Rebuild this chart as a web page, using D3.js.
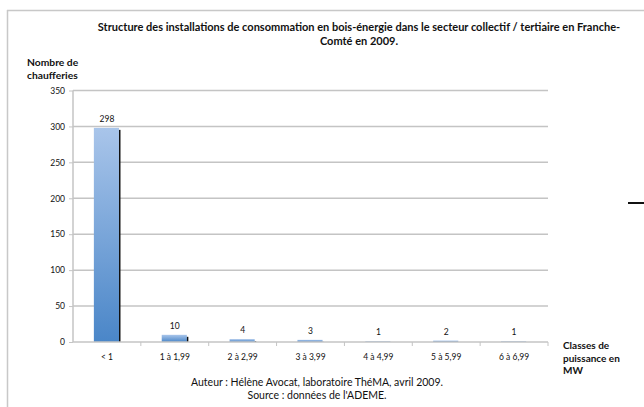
<!DOCTYPE html>
<html><head><meta charset="utf-8">
<script src="https://cdn.jsdelivr.net/npm/d3@7"></script>
<style>body{margin:0;background:#fff}svg{display:block}text{font-family:Lato,"Open Sans",sans-serif;fill:#111}</style>
</head><body><svg id="c" width="644" height="407"></svg>
<script>
const categories = ["< 1","1 à 1,99","2 à 2,99","3 à 3,99","4 à 4,99","5 à 5,99","6 à 6,99"];
const values = [298,10,4,3,1,2,1];
const yTicks = [0,50,100,150,200,250,300,350];
const titleLines = ["Structure des installations de consommation en bois-énergie dans le secteur collectif / tertiaire en Franche-","Comté en 2009."];
const yLabel = ["Nombre de","chaufferies"];
const xLabel = ["Classes de","puissance en","MW"];
const footer = ["Auteur : Hélène Avocat, laboratoire ThéMA, avril 2009.","Source : données de l'ADEME."];

const svg = d3.select("#c");
const defs = svg.append("defs");
const g = defs.append("linearGradient").attr("id","bg").attr("x1",0).attr("y1",0).attr("x2",0).attr("y2",1);
g.append("stop").attr("offset","0%").attr("stop-color","#a9c5ea");
g.append("stop").attr("offset","100%").attr("stop-color","#4a86c8");

// frame
svg.append("line").attr("x1",7).attr("x2",644).attr("y1",10.5).attr("y2",10.5).attr("stroke","#c8c8c8").attr("stroke-width",1.5);
svg.append("line").attr("x1",7.5).attr("x2",7.5).attr("y1",10).attr("y2",407).attr("stroke","#c8c8c8").attr("stroke-width",1.5);
svg.append("line").attr("x1",628).attr("x2",644).attr("y1",203).attr("y2",203).attr("stroke","#111").attr("stroke-width",2);

const x = d3.scaleBand().domain(categories).range([73,548]).padding(0);
const y = d3.scaleLinear().domain([0,350]).range([342,90.5]);

// gridlines
svg.append("g").selectAll("line").data(yTicks.filter(d=>d>0)).join("line")
  .attr("x1",73).attr("x2",548).attr("y1",d=>y(d)).attr("y2",d=>y(d))
  .attr("stroke","#c4c4c4").attr("stroke-width",1.5);

// y axis
const ya = svg.append("g").attr("transform","translate(73,0)").call(d3.axisLeft(y).tickValues(yTicks).tickSize(4).tickPadding(4));
ya.select(".domain").attr("stroke","#c4c4c4").attr("stroke-width",1.5).attr("d","M0,"+y(350)+"V"+y(0));
ya.selectAll(".tick line").attr("stroke","#c4c4c4");
ya.selectAll("text").style("font-size","8.5px").style("font-family","Lato, sans-serif").attr("fill","#111");

// bars
const bw = x.bandwidth()*0.385;
const bars = svg.append("g");
bars.selectAll("rect.s").data(values).join("rect").attr("class","s")
  .attr("x",(d,i)=>x(categories[i])+x.bandwidth()/2+bw/2-1.5)
  .attr("y",d=>y(d)+2).attr("width",2).attr("height",d=>Math.max(0,y(0)-y(d)-2)).attr("fill","#111");
bars.selectAll("rect.b").data(values).join("rect").attr("class","b")
  .attr("x",(d,i)=>x(categories[i])+x.bandwidth()/2-bw/2)
  .attr("y",d=>y(d)).attr("width",bw-1).attr("height",d=>y(0)-y(d)).attr("fill","url(#bg)");
bars.selectAll("text").data(values).join("text")
  .attr("x",(d,i)=>x(categories[i])+x.bandwidth()/2).attr("y",d=>y(d)-6)
  .attr("text-anchor","middle").style("font-size","8.5px").text(d=>d);

// x axis
const xa = svg.append("g").attr("transform","translate(0,342)").call(d3.axisBottom(x).tickSize(0).tickPadding(12));
xa.select(".domain").attr("stroke","#c4c4c4").attr("stroke-width",1.5).attr("d","M73,0H548");
xa.selectAll("text").style("font-size","8.5px").style("font-family","Lato, sans-serif").attr("fill","#111");
svg.append("g").selectAll("line").data(categories.slice(1)).join("line")
  .attr("x1",d=>x(d)).attr("x2",d=>x(d)).attr("y1",342).attr("y2",346).attr("stroke","#c4c4c4");
svg.append("line").attr("x1",548).attr("x2",548).attr("y1",342).attr("y2",346).attr("stroke","#c4c4c4");

// title
svg.append("g").selectAll("text").data(titleLines).join("text")
  .attr("x",359).attr("y",(d,i)=>31+i*14).attr("text-anchor","middle")
  .style("font-size","11px").style("font-weight","bold").text(d=>d);
svg.append("g").selectAll("text").data(yLabel).join("text")
  .attr("x",27).attr("y",(d,i)=>66+i*12.5).style("font-size","10.3px").style("font-weight","bold").text(d=>d);
svg.append("g").selectAll("text").data(xLabel).join("text")
  .attr("x",563).attr("y",(d,i)=>349+i*12.5).style("font-size","10px").style("font-weight","bold").text(d=>d);
svg.append("g").selectAll("text").data(footer).join("text")
  .attr("x",317).attr("y",(d,i)=>386+i*13).attr("text-anchor","middle")
  .style("font-size","10.5px").text(d=>d);
</script></body></html>
